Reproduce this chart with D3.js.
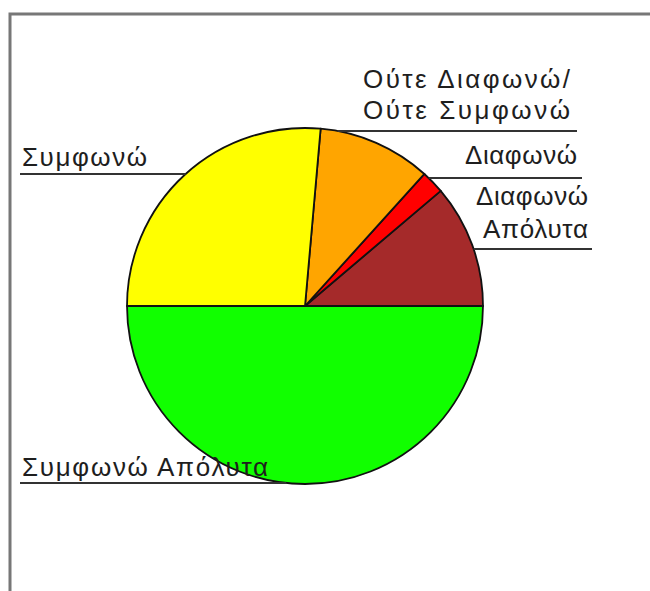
<!DOCTYPE html>
<html>
<head>
<meta charset="utf-8">
<script src="https://cdn.jsdelivr.net/npm/d3@7/dist/d3.min.js"></script>
<style>
  html, body { margin: 0; padding: 0; background: #fff; }
  svg { display: block; }
</style>
</head>
<body>
<svg id="chart" width="650" height="591"></svg>
<script>
// Survey answers, counter-clockwise from 3 o'clock
const categories = ["Διαφωνώ Απόλυτα", "Διαφωνώ", "Ούτε Διαφωνώ/ Ούτε Συμφωνώ", "Συμφωνώ", "Συμφωνώ Απόλυτα"];
const values = [11.2, 2.1, 10.3, 26.4, 50.0];
const labelLines = [["Διαφωνώ", "Απόλυτα"], ["Διαφωνώ"], ["Ούτε Διαφωνώ/", "Ούτε Συμφωνώ"], ["Συμφωνώ"], ["Συμφωνώ Απόλυτα"]];

const sliceColors = ["#a52a2a", "#ff0000", "#ffa500", "#ffff00", "#11ff00"];

// Label placement: side, text anchor x, first baseline, line step, underline y, underline outer x, text widths
const labelLayout = [
  { side: "right", x: 588, y0: 205, step: 33, uy: 249, ux: 592, widths: [112, 105] },
  { side: "right", x: 577, y0: 164, step: 0,  uy: 178, ux: 582, widths: [112] },
  { side: "right", x: 570, y0: 88,  step: 31, uy: 131, ux: 577, widths: [207, 207] },
  { side: "left",  x: 22,  y0: 166, step: 0,  uy: 174, ux: 20,  widths: [125] },
  { side: "left",  x: 22,  y0: 476, step: 0,  uy: 483, ux: 20,  widths: [246] }
];

const svg = d3.select("#chart");
const cx = 305, cy = 306, R = 178;

// Frame around the plot area
svg.append("rect")
  .attr("x", 10).attr("y", 14)
  .attr("width", 700).attr("height", 700)
  .attr("fill", "none")
  .attr("stroke", "#777")
  .attr("stroke-width", 3);

const color = d3.scaleOrdinal().domain(categories).range(sliceColors);

const pie = d3.pie()
  .sort(null)
  .value(d => d.value)
  .startAngle(Math.PI / 2)
  .endAngle(Math.PI / 2 - 2 * Math.PI);

const data = categories.map((c, i) => ({ name: c, value: values[i], lines: labelLines[i], layout: labelLayout[i] }));
const arcs = pie(data);

const arc = d3.arc().innerRadius(0).outerRadius(R);

const g = svg.append("g").attr("transform", `translate(${cx},${cy})`);

g.selectAll("path.slice")
  .data(arcs)
  .join("path")
  .attr("class", "slice")
  .attr("d", arc)
  .attr("fill", d => color(d.data.name))
  .attr("stroke", "#111")
  .attr("stroke-width", 1.8)
  .attr("stroke-linejoin", "round");

// Horizontal leader lines run from the label to the edge of the pie
function edgeX(y, side) {
  const dy = y - cy;
  const dx = Math.sqrt(Math.max(0, R * R - dy * dy));
  return side === "right" ? cx + dx : cx - dx;
}

svg.selectAll("line.leader")
  .data(arcs)
  .join("line")
  .attr("class", "leader")
  .attr("x1", d => d.data.layout.ux)
  .attr("x2", d => edgeX(d.data.layout.uy, d.data.layout.side))
  .attr("y1", d => d.data.layout.uy)
  .attr("y2", d => d.data.layout.uy)
  .attr("stroke", "#333")
  .attr("stroke-width", 2);

const labels = svg.selectAll("g.label")
  .data(arcs)
  .join("g")
  .attr("class", "label");

labels.each(function(d) {
  const L = d.data.layout;
  d3.select(this).selectAll("text")
    .data(d.data.lines)
    .join("text")
    .attr("x", L.x)
    .attr("y", (t, i) => L.y0 + i * L.step)
    .attr("text-anchor", L.side === "right" ? "end" : "start")
    .attr("textLength", (t, i) => L.widths[i])
    .attr("lengthAdjust", "spacing")
    .attr("font-family", "'Liberation Sans', Arial, sans-serif")
    .attr("font-size", 26)
    .attr("fill", "#1e1e1e")
    .text(t => t);
});
</script>
</body>
</html>
